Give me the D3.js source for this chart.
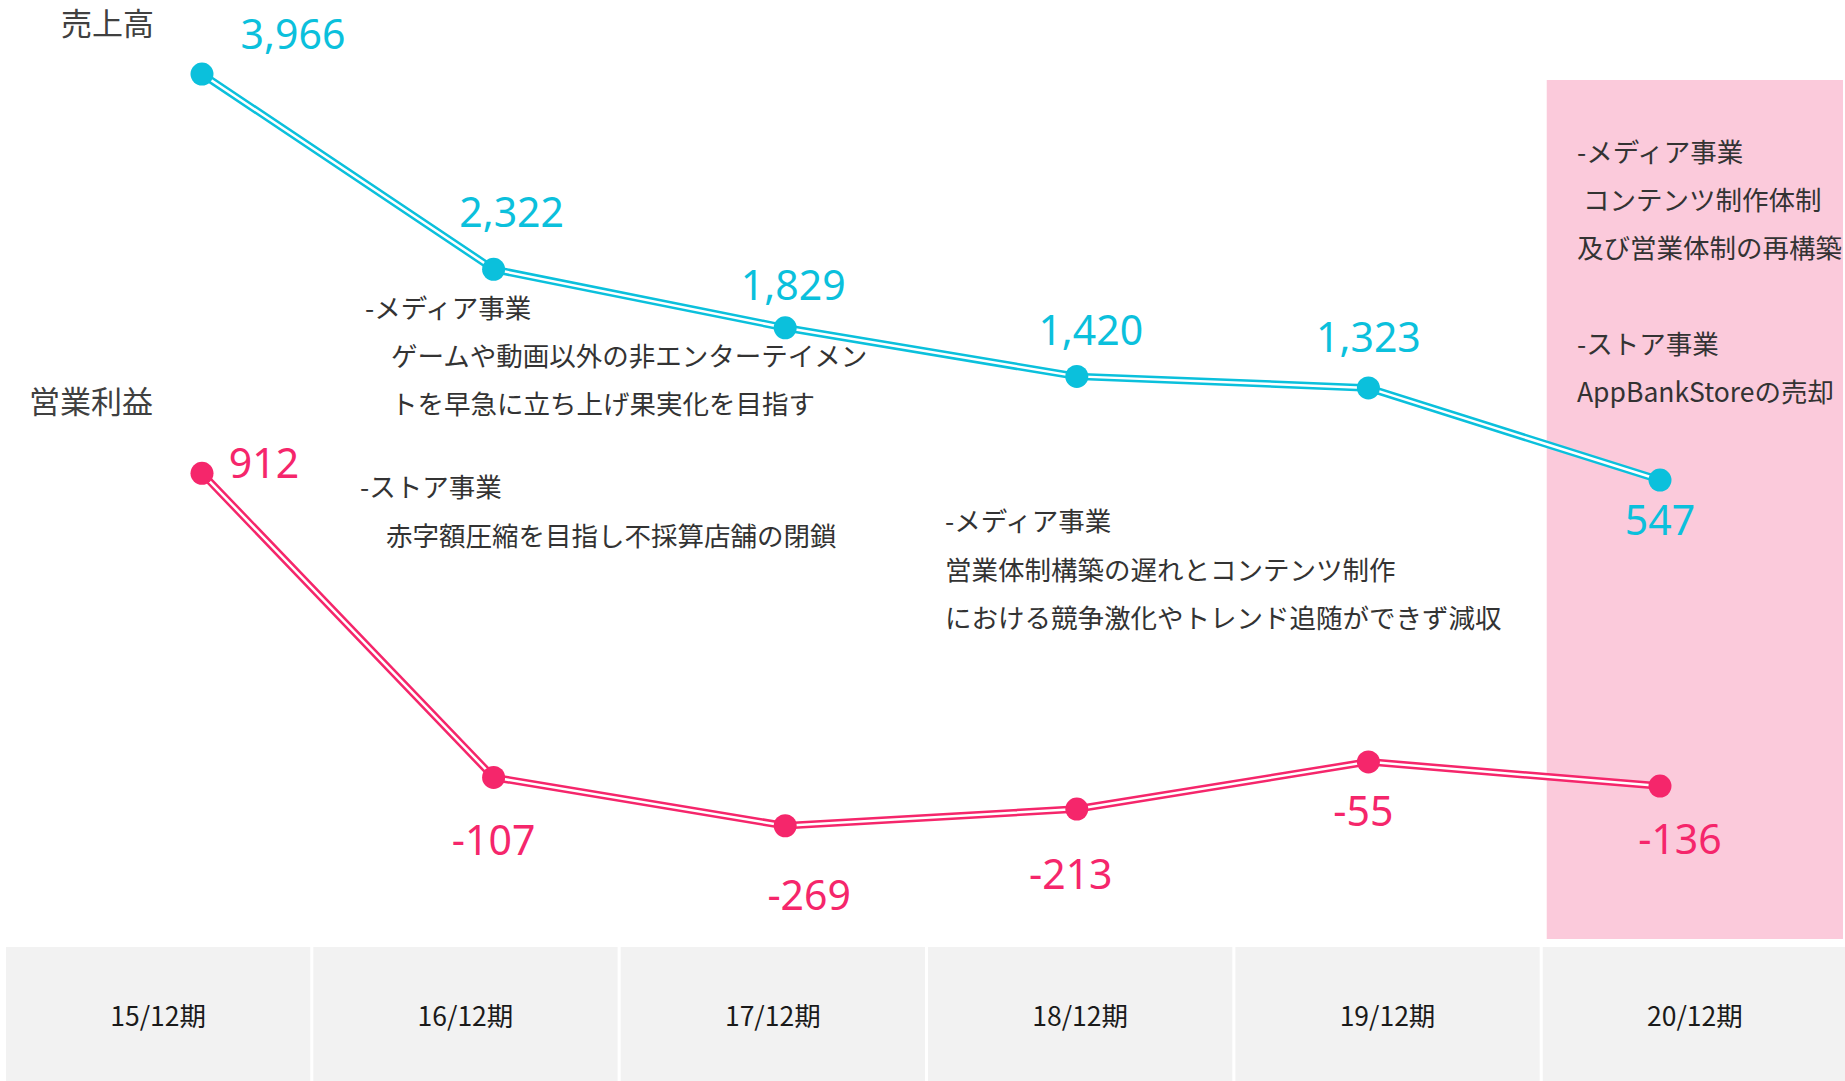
<!DOCTYPE html>
<html>
<head>
<meta charset="utf-8">
<script src="https://cdn.jsdelivr.net/npm/d3@7"></script>
<style>
  html, body { margin: 0; padding: 0; background: #fff; }
  svg { display: block; }
</style>
</head>
<body>
<div id="root"></div>
<script>
// データ
const categories = ['15/12期', '16/12期', '17/12期', '18/12期', '19/12期', '20/12期'];
const sales = [3966, 2322, 1829, 1420, 1323, 547];        // 売上高
const profit = [912, -107, -269, -213, -55, -136];        // 営業利益
const salesTitle = '売上高';
const profitTitle = '営業利益';

// 注記テキスト
const noteMedia1 = ['-メディア事業', 'ゲームや動画以外の非エンターテイメン', 'トを早急に立ち上げ果実化を目指す'];
const noteStore1 = ['-ストア事業', '赤字額圧縮を目指し不採算店舗の閉鎖'];
const noteMedia2 = ['-メディア事業', '営業体制構築の遅れとコンテンツ制作', 'における競争激化やトレンド追随ができず減収'];
const notePlan = ['-メディア事業', ' コンテンツ制作体制', '及び営業体制の再構築', '', '-ストア事業', 'AppBankStoreの売却'];

const W = 1845, H = 1081;
const cyan = '#0bc0dc';
const pink = '#f5266b';
const textColor = '#333333';
const jp = '"Noto Sans CJK JP", "Noto Sans", sans-serif';

// ラベル位置(点からのずれ)
const salesLabelOffset = [[91, -41], [18, -58], [8, -44], [14, -47], [0, -52], [0, 39]];
const profitLabelOffset = [[62, -11], [0, 62], [24, 68], [-6, 64], [-5, 48], [20, 52]];

const svg = d3.select('#root').append('svg')
    .attr('width', W)
    .attr('height', H)
    .attr('xmlns', 'http://www.w3.org/2000/svg');

// 期のセル
const cellX = d3.scaleBand()
    .domain(categories)
    .range([6, W + 2])
    .paddingInner(0.01)
    .paddingOuter(0);

const cellTop = 947;

// 予定期のハイライト
const lastCat = categories[categories.length - 1];
svg.append('rect')
    .attr('x', cellX(lastCat) + 4)
    .attr('y', 80)
    .attr('width', W - cellX(lastCat) - 6)
    .attr('height', 939 - 80)
    .attr('fill', '#fbcadb');

const cells = svg.append('g').attr('class', 'cells');
cells.selectAll('rect')
    .data(categories)
    .join('rect')
    .attr('x', d => cellX(d))
    .attr('y', cellTop)
    .attr('width', cellX.bandwidth())
    .attr('height', H - cellTop)
    .attr('fill', '#f2f2f2');

cells.selectAll('text')
    .data(categories)
    .join('text')
    .attr('x', d => cellX(d) + cellX.bandwidth() / 2)
    .attr('y', 1014)
    .attr('text-anchor', 'middle')
    .attr('dominant-baseline', 'central')
    .attr('font-family', jp)
    .attr('font-size', 26.5)
    .attr('fill', '#1a1a1a')
    .text(d => d);

// スケール
const x = d3.scalePoint()
    .domain(categories)
    .range([202, 1660]);

const ySales = d3.scaleLinear()
    .domain([0, 4000])
    .range([545, 70]);

const yProfit = d3.scaleLinear()
    .domain([-300, 1000])
    .range([835, 447]);

// 注記
function note(lines, left, firstBaseline, lineH, indents) {
    const t = svg.append('text')
        .attr('font-family', jp)
        .attr('font-size', 26.5)
        .attr('fill', textColor)
        .attr('xml:space', 'preserve');
    lines.forEach((ln, i) => {
        t.append('tspan')
            .attr('x', left + (indents ? indents[i] : 0))
            .attr('y', firstBaseline + i * lineH)
            .text(ln);
    });
}

note(noteMedia1, 365, 318, 48, [0, 26, 26]);
note(noteStore1, 360, 497, 49, [0, 26]);
note(noteMedia2, 945, 531, 48.5, [0, 0, 0]);
note(notePlan, 1577, 162, 48, [0, 0, 0, 0, 0, 0]);

// タイトル
svg.append('text')
    .attr('x', 61)
    .attr('y', 35)
    .attr('font-family', jp)
    .attr('font-size', 31)
    .attr('fill', '#404040')
    .text(salesTitle);

svg.append('text')
    .attr('x', 29)
    .attr('y', 413)
    .attr('font-family', jp)
    .attr('font-size', 31)
    .attr('fill', '#404040')
    .text(profitTitle);

// 折れ線(二重線)
function series(values, yScale, color, offsets, fmt) {
    const g = svg.append('g');
    const line = d3.line()
        .x((d, i) => x(categories[i]))
        .y(d => yScale(d));

    g.append('path')
        .datum(values)
        .attr('d', line)
        .attr('fill', 'none')
        .attr('stroke', color)
        .attr('stroke-width', 7.5);

    g.append('path')
        .datum(values)
        .attr('d', line)
        .attr('fill', 'none')
        .attr('stroke', '#fff')
        .attr('stroke-width', 2.5);

    g.selectAll('circle')
        .data(values)
        .join('circle')
        .attr('cx', (d, i) => x(categories[i]))
        .attr('cy', d => yScale(d))
        .attr('r', 11.5)
        .attr('fill', color);

    g.selectAll('text')
        .data(values)
        .join('text')
        .attr('x', (d, i) => x(categories[i]) + offsets[i][0])
        .attr('y', (d, i) => yScale(d) + offsets[i][1])
        .attr('text-anchor', 'middle')
        .attr('dominant-baseline', 'central')
        .attr('font-family', '"Noto Sans", "Open Sans", sans-serif')
        .attr('font-size', 41)
        .attr('fill', color)
        .text(d => fmt(d));
}

series(sales, ySales, cyan, salesLabelOffset, d3.format(','));
series(profit, yProfit, pink, profitLabelOffset, d => d3.format(',')(d).replace('−', '-'));
</script>
</body>
</html>
